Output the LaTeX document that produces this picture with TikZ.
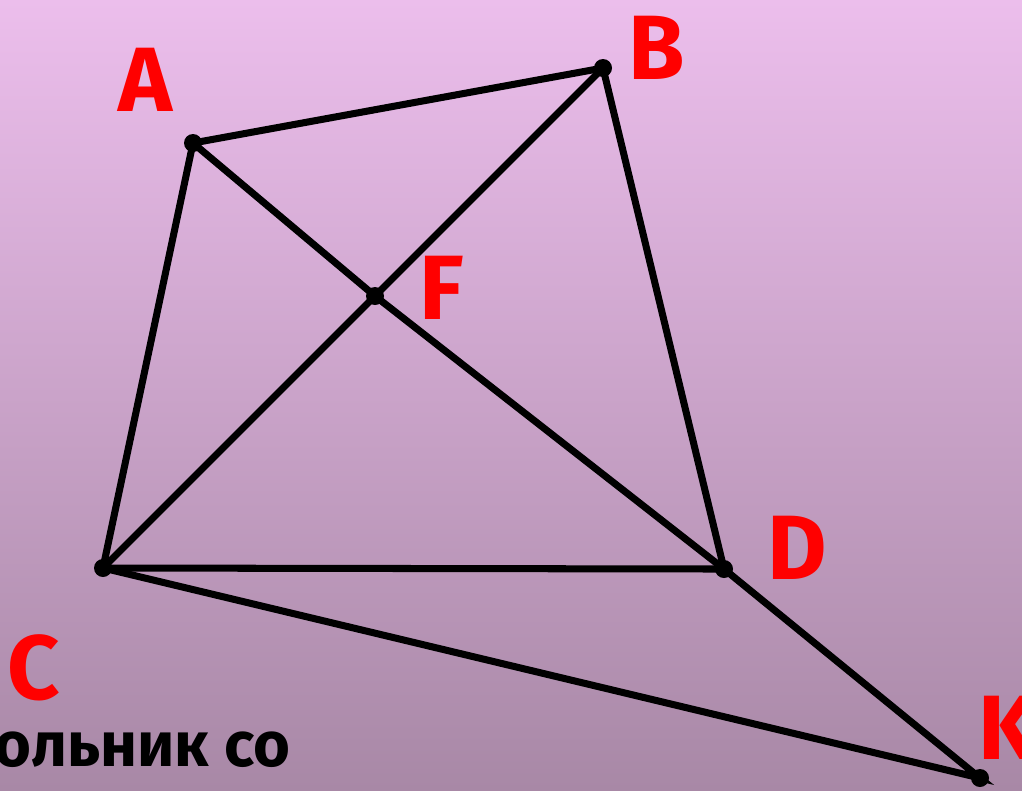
\documentclass[tikz,border=0pt]{standalone}
\usepackage{fontspec}
\setmainfont{Fira Sans}
\usepackage{tikz}
\definecolor{bgtop}{RGB}{236,190,236}
\definecolor{bgbot}{RGB}{168,136,166}
\definecolor{lblred}{RGB}{255,0,0}

\begin{document}
\begin{tikzpicture}[
    x=1cm, y=-1cm,
    pt/.style={circle, fill=black, inner sep=0pt, minimum size=0.18cm},
    edge/.style={line width=2pt, line join=miter},
    lbl/.style={text=lblred, inner sep=0pt, font=\fontsize{26}{30}\selectfont\bfseries},
  ]
  \useasboundingbox (0,0) rectangle (10.22,7.90);
  \shade[top color=bgtop, bottom color=bgbot] (0,0) rectangle (10.22,7.90);
  % points
  \node[pt] (A) at (1.93,1.43) {};
  \node[pt] (B) at (6.03,0.68) {};
  \node[pt] (F) at (3.75,2.96) {};
  \node[pt] (C) at (1.03,5.68) {};
  \node[pt] (D) at (7.24,5.69) {};
  \node[pt] (K) at (9.80,7.78) {};
  % labels
  \node[lbl] (lA) at (1.45,0.80) {A};
  \node[lbl] (lB) at (6.57,0.48) {B};
  \node[lbl] (lF) at (4.42,2.88) {F};
  \node[lbl] (lC) at (0.34,6.68) {C};
  \node[lbl] (lD) at (7.97,5.48) {D};
  \node[lbl] (lK) at (10.07,7.28) {K};
  \node[anchor=west, inner sep=0pt, font=\fontsize{18}{22}\selectfont\bfseries] (txt) at (-0.06,7.50) {ольник со};
  % sides and diagonals
  \draw[edge] (A.center) -- (B.center) -- (D.center) -- (C.center) -- cycle;
  \draw[edge] (A.center) -- (F.center) -- (D.center);
  \draw[edge] (C.center) -- (F.center) -- (B.center);
  \draw[edge] (C.center) -- (K.center) -- (D.center);
\end{tikzpicture}
\end{document}
